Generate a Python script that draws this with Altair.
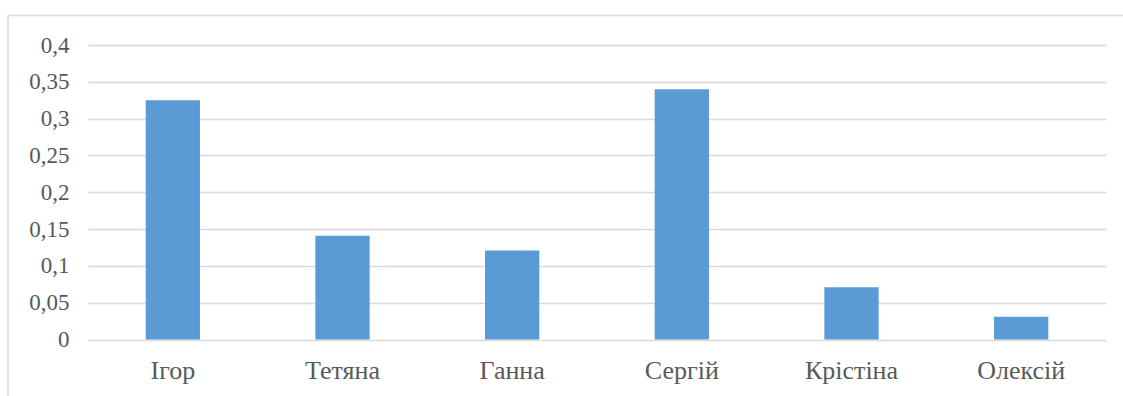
import altair as alt
import pandas as pd

# Share per person
names = ["Ігор", "Тетяна", "Ганна", "Сергій", "Крістіна", "Олексій"]
shares = [0.325, 0.141, 0.121, 0.34, 0.071, 0.031]
y_ticks = [0, 0.05, 0.1, 0.15, 0.2, 0.25, 0.3, 0.35, 0.4]

df = pd.DataFrame({"name": names, "share": shares})

FONT = "Liberation Serif"
TEXT = "#595959"
GRID = "#d9d9d9"
BAR = "#5b9bd5"

bars = alt.Chart(df).mark_bar(color=BAR).encode(
    x=alt.X(
        "name:N",
        sort=names,
        title=None,
        scale=alt.Scale(paddingInner=0.68, paddingOuter=0.34),
        axis=alt.Axis(
            domain=False,
            ticks=False,
            grid=False,
            labelAngle=0,
            labelFontSize=26,
            labelPadding=18,
        ),
    ),
    y=alt.Y(
        "share:Q",
        title=None,
        scale=alt.Scale(domain=[0, 0.4], nice=False),
        axis=alt.Axis(
            values=y_ticks,
            domain=False,
            ticks=False,
            grid=True,
            gridColor=GRID,
            gridWidth=1.5,
            labelFontSize=23,
            labelPadding=19,
            labelExpr="replace(format(datum.value, '~g'), '.', ',')",
        ),
    ),
)

# Thin outer frame (top and left edges) around the chart
frame_df = pd.DataFrame({"k": [0]})
frame_top = alt.Chart(frame_df).mark_rule(color=GRID, strokeWidth=1.5).encode(
    x=alt.value(-80), x2=alt.value(1040), y=alt.value(-29.5)
)
frame_left = alt.Chart(frame_df).mark_rule(color=GRID, strokeWidth=1.5).encode(
    x=alt.value(-80), y=alt.value(-29.5), y2=alt.value(360)
)

chart = (
    alt.layer(bars, frame_top, frame_left)
    .properties(
        width=1018,
        height=294.5,
        autosize=alt.AutoSizeParams(type="none"),
        padding={"left": 88, "top": 45, "right": 17, "bottom": 56.5},
        background="white",
    )
    .configure(font=FONT)
    .configure_axis(labelFont=FONT, labelColor=TEXT)
    .configure_view(stroke=None)
)

chart.save("out.html", embed_options={"renderer": "svg", "actions": False})
